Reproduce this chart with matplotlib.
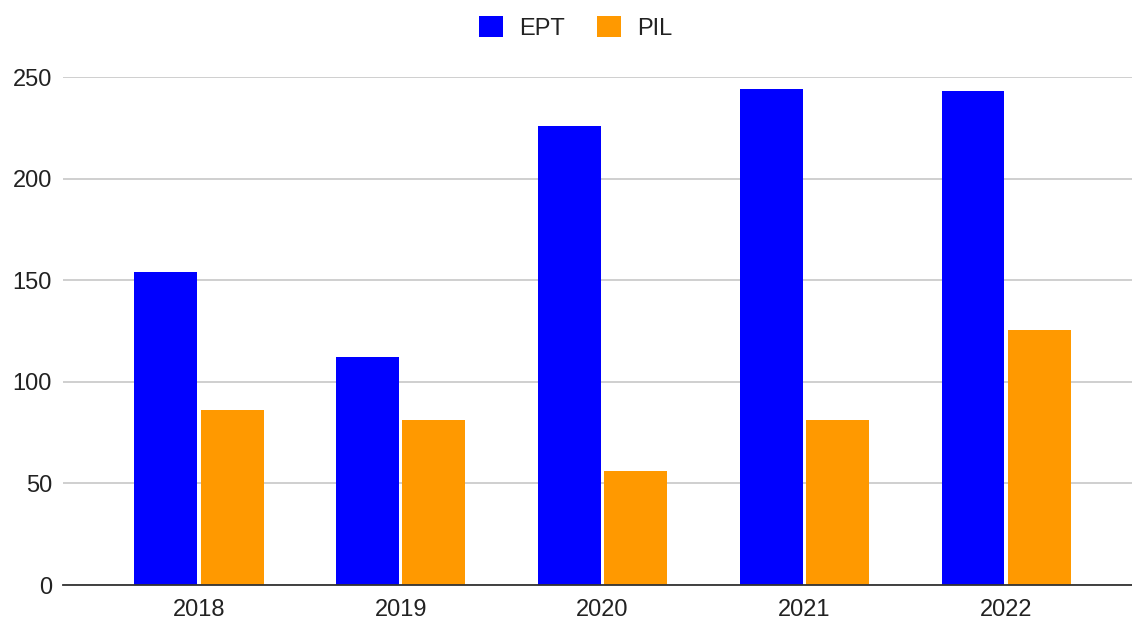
import matplotlib.pyplot as plt
import numpy as np
from matplotlib.patches import Patch

plt.rcParams['font.family'] = ['Liberation Sans', 'DejaVu Sans']

years = ['2018', '2019', '2020', '2021', '2022']
ept = [154, 112, 226, 244, 243]
pil = [86, 81, 56, 81, 125.5]

c_ept = '#0000ff'
c_pil = '#ff9900'

fig = plt.figure(figsize=(11.32, 6.21), dpi=100)
ax = fig.add_axes([63 / 1132, 36 / 621, 1 - 63 / 1132, 508 / 621])

x = np.arange(len(years))
w = 0.312
off = 0.164
ax.bar(x - off, ept, w, color=c_ept, zorder=3)
ax.bar(x + off, pil, w, color=c_pil, zorder=3)

ax.set_xlim(-0.674, 4.624)
ax.set_ylim(0, 250)
ax.set_yticks([0, 50, 100, 150, 200, 250])
ax.set_xticks(x)
ax.set_xticklabels(years)

ax.grid(axis='y', color='#cccccc', linewidth=1.3, zorder=0)
for s in ['top', 'right', 'left']:
    ax.spines[s].set_visible(False)
ax.spines['bottom'].set_color('#333333')
ax.spines['bottom'].set_linewidth(1.3)
ax.spines['bottom'].set_zorder(4)
ax.tick_params(axis='both', length=0, labelsize=17, colors='#222222')
ax.tick_params(axis='y', pad=8)
ax.tick_params(axis='x', pad=10)

handles = [Patch(facecolor=c_ept, label='EPT'), Patch(facecolor=c_pil, label='PIL')]
fig.legend(handles=handles, loc='center', bbox_to_anchor=(576 / 1132, 1 - 28 / 621),
           ncol=2, frameon=False, fontsize=17, handlelength=1.0, handleheight=1.0,
           handletextpad=0.7, columnspacing=1.35, labelcolor='#222222')

fig.savefig('out.png', dpi=100)
